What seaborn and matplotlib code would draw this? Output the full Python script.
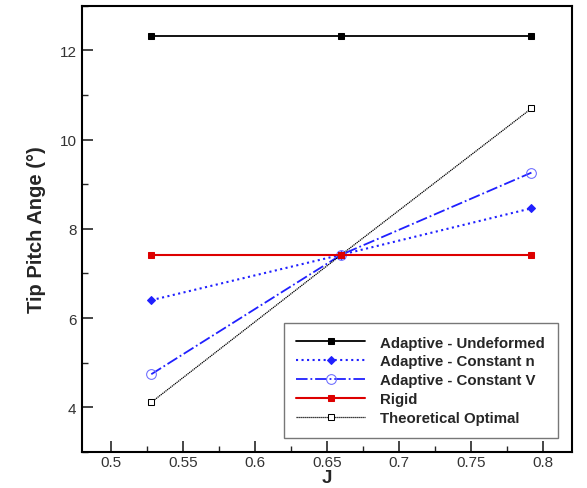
import matplotlib
matplotlib.use("Agg")
import matplotlib.pyplot as plt
import seaborn as sns
import pandas as pd
from matplotlib.ticker import MultipleLocator

J = [0.528, 0.660, 0.792]
undeformed = [12.33, 12.33, 12.33]
const_n = [6.40, 7.42, 8.46]
const_v = [4.74, 7.42, 9.26]
rigid = [7.42, 7.42, 7.42]
theoretical = [4.11, 7.42, 10.70]

labels = ["Adaptive - Undeformed", "Adaptive - Constant n", "Adaptive - Constant V",
          "Rigid", "Theoretical Optimal"]
series = [undeformed, const_n, const_v, rigid, theoretical]

sns.set_theme(style="ticks")
plt.rcParams["font.family"] = ["Liberation Sans", "DejaVu Sans"]

fig = plt.figure(figsize=(5.87, 4.89), dpi=100)
ax = fig.add_axes([0.140, 0.074, 0.834, 0.912])

styles = [
    dict(color="black", linestyle="-", marker="s", markersize=4, markerfacecolor="black", markeredgecolor="black", linewidth=1.3, zorder=3),
    dict(color="#2020ff", linestyle=":", marker="D", markersize=4, markerfacecolor="#2020ff", markeredgecolor="#2020ff", linewidth=1.5, zorder=3),
    dict(color="#2020ff", linestyle="-.", marker="o", markersize=7, markerfacecolor="none", markeredgecolor="#6a6aff", linewidth=1.3, zorder=3),
    dict(color="#dd0000", linestyle="-", marker="s", markersize=5, markerfacecolor="#dd0000", markeredgecolor="#dd0000", linewidth=1.5, zorder=5),
    dict(color="black", linestyle=(0, (1, 0.6)), marker="s", markersize=5, markerfacecolor="white", markeredgecolor="black", linewidth=0.9, zorder=4),
]

for lab, vals, st in zip(labels, series, styles):
    df = pd.DataFrame({"J": J, "angle": vals})
    sns.lineplot(data=df, x="J", y="angle", ax=ax, label=lab, **st)

ax.set_xlim(0.48, 0.82)
ax.set_ylim(3, 13)
ax.xaxis.set_minor_locator(MultipleLocator(0.025))
ax.yaxis.set_major_locator(MultipleLocator(2))
ax.yaxis.set_minor_locator(MultipleLocator(1))
ax.set_xticks([0.5, 0.55, 0.6, 0.65, 0.7, 0.75, 0.8])
ax.set_xticklabels(["0.5", "0.55", "0.6", "0.65", "0.7", "0.75", "0.8"])
ax.tick_params(which="major", direction="in", length=8, width=1.2, labelsize=11, labelcolor="#333333", pad=4)
ax.tick_params(axis="x", which="major", pad=2)
ax.tick_params(which="minor", direction="in", length=4, width=1)
for sp in ax.spines.values():
    sp.set_linewidth(1.5)
    sp.set_color("black")

ax.set_xlabel("J", fontsize=13.5, fontweight="bold", labelpad=0)
ax.set_ylabel("Tip Pitch Ange (°)", fontsize=14.5, fontweight="bold", labelpad=10)

leg = ax.legend(loc="lower right", bbox_to_anchor=(0.987, 0.015),
                prop={"weight": "bold", "size": 10.8}, frameon=True, fancybox=False,
                edgecolor="#555555", handlelength=4.6, borderpad=0.85, labelspacing=0.32,
                handletextpad=1.0)
leg.get_frame().set_linewidth(1.0)

fig.savefig("out.png", dpi=100)
